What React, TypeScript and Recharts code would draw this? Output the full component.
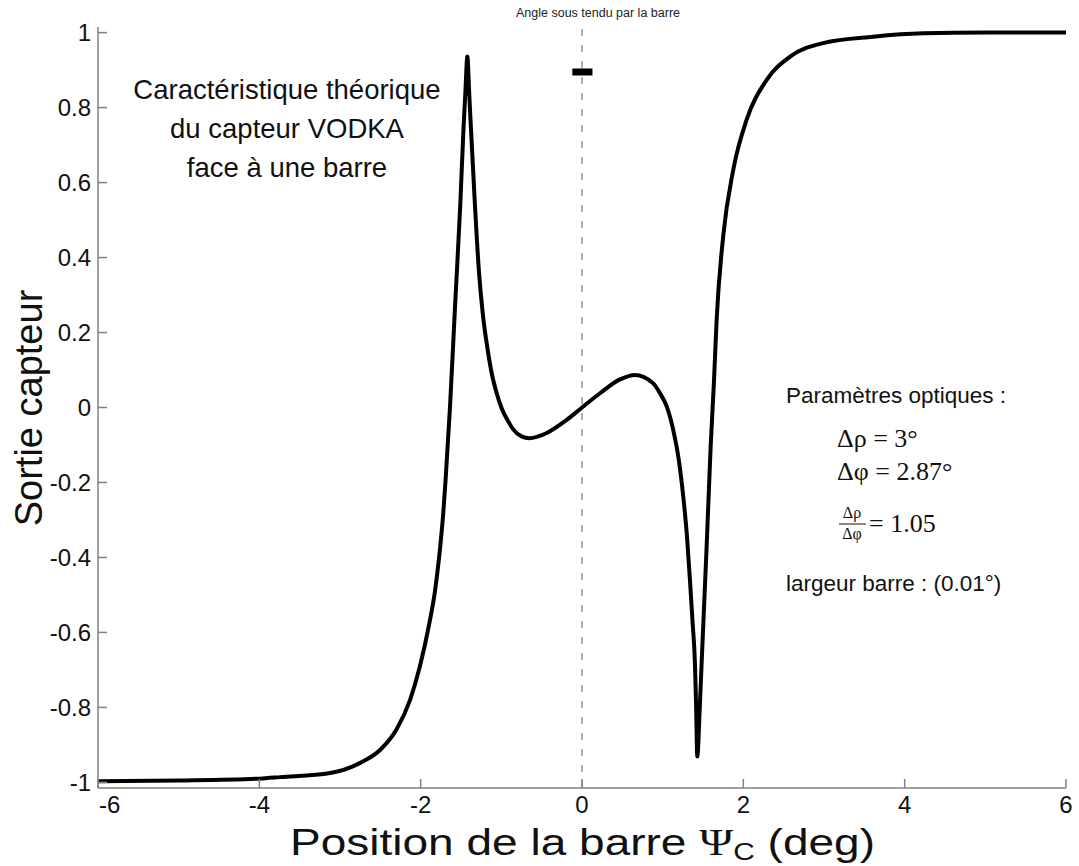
import { LineChart, Line, XAxis, YAxis, ReferenceLine } from 'recharts'

// position de la barre (deg) et sortie capteur
const positions = [
  -6, -5, -4, -3.74, -3.12, -2.75, -2.5, -2.3, -2.13, -2.01, -1.9, -1.82, -1.77, -1.72, -1.69,
  -1.636, -1.574, -1.51, -1.47, -1.446, -1.421, -1.4, -1.38, -1.326, -1.28, -1.23, -1.17, -1.12,
  -1.06, -1.0, -0.92, -0.85, -0.75, -0.653, -0.437, -0.19, 0, 0.223, 0.47, 0.657, 0.88, 0.967,
  1.05, 1.13, 1.2, 1.255, 1.3, 1.338, 1.37, 1.4, 1.415, 1.429, 1.46, 1.483, 1.545, 1.595, 1.636,
  1.669, 1.75, 1.875, 2.04, 2.29, 2.58, 2.99, 3.61, 4.23, 5, 6,
]
const outputs = [
  -0.997, -0.995, -0.99, -0.986, -0.975, -0.948, -0.913, -0.859, -0.779, -0.691, -0.584, -0.486, -0.397, -0.282, -0.19,
  0.003, 0.269, 0.536, 0.74, 0.84, 0.936, 0.847, 0.758, 0.536, 0.37, 0.25, 0.155, 0.092,
  0.04, 0.0, -0.035, -0.059, -0.077, -0.082, -0.068, -0.033, 0, 0.038, 0.075, 0.087, 0.065, 0.038,
  0.003, -0.059, -0.14, -0.237, -0.34, -0.459, -0.57, -0.682, -0.8, -0.931, -0.8, -0.682, -0.371, -0.104, 0.07,
  0.234, 0.456, 0.634, 0.767, 0.874, 0.936, 0.972, 0.989, 0.998, 1.0, 1.0,
]

const xTicks = [-6, -4, -2, 0, 2, 4, 6]
const yTicks = [-1, -0.8, -0.6, -0.4, -0.2, 0, 0.2, 0.4, 0.6, 0.8, 1]

// petit trait noir : angle sous tendu par la barre
const barSpanX = [-0.12, 0.13]
const barSpanY = 0.895

const data = positions.map((x, i) => ({ x, y: outputs[i] }))

const AXIS = '#808080'
const SANS = '"Liberation Sans", Arial, sans-serif'
const SERIF = '"Liberation Serif", "Times New Roman", serif'

const XTick = (props: any) => {
  const { x, y, payload } = props
  const first = payload.value === xTicks[0]
  return (
    <g>
      <line x1={x} y1={y} x2={x} y2={y - 9} stroke={AXIS} strokeWidth={1.5} />
      <text x={first ? x + 1 : x} y={y + 25} textAnchor={first ? 'start' : 'middle'} fontSize={24} fontFamily={SANS} fill="#111">
        {payload.value}
      </text>
    </g>
  )
}

const YTick = (props: any) => {
  const { x, y, payload } = props
  return (
    <g>
      <line x1={x} y1={y} x2={x + 9} y2={y} stroke={AXIS} strokeWidth={1.5} />
      <text x={x - 7} y={y} dy="0.35em" textAnchor="end" fontSize={24} fontFamily={SANS} fill="#111">
        {payload.value}
      </text>
    </g>
  )
}

export default function App() {
  return (
    <div style={{ position: 'absolute', left: 0, top: 0, width: 1079, height: 866, background: '#fff' }}>
      <LineChart width={1079} height={866} data={data} margin={{ top: 27, right: 13, bottom: 18, left: 8 }}>
        <XAxis
          dataKey="x"
          type="number"
          domain={[-6, 6]}
          ticks={xTicks}
          allowDataOverflow
          height={60}
          tickSize={0}
          tickMargin={0}
          tickLine={false}
          axisLine={{ stroke: AXIS, strokeWidth: 1.5 }}
          tick={<XTick />}
        />
        <YAxis
          type="number"
          domain={[-1.015, 1.015]}
          ticks={yTicks}
          allowDataOverflow
          width={90}
          tickSize={0}
          tickMargin={0}
          tickLine={false}
          axisLine={{ stroke: AXIS, strokeWidth: 1.5 }}
          tick={<YTick />}
        />
        <ReferenceLine x={0} stroke="#8a8a8a" strokeWidth={1.3} strokeDasharray="7 9" />
        <ReferenceLine
          segment={[{ x: barSpanX[0], y: barSpanY }, { x: barSpanX[1], y: barSpanY }]}
          stroke="#000"
          strokeWidth={7}
        />
        <Line dataKey="y" type="monotone" stroke="#000" strokeWidth={4} dot={false} isAnimationActive={false} />
      </LineChart>
      <svg width={1079} height={866} style={{ position: 'absolute', left: 0, top: 0, pointerEvents: 'none' }}>
        <text x={598} y={17} textAnchor="middle" fontSize={12.5} fontFamily={SANS} fill="#222">Angle sous tendu par la barre</text>
        <g fontSize={27.5} fontFamily={SANS} fill="#111" textAnchor="middle">
          <text x={287} y={99}>Caractéristique théorique</text>
          <text x={287} y={138}>du capteur VODKA</text>
          <text x={287} y={177}>face à une barre</text>
        </g>
        <text x={786} y={403} fontSize={22.5} fontFamily={SANS} fill="#111">Paramètres optiques :</text>
        <g fontSize={26} fontFamily={SERIF} fill="#111">
          <text x={837} y={447}>Δρ = 3°</text>
          <text x={837} y={480}>Δφ = 2.87°</text>
          <text x={869} y={532}>= 1.05</text>
        </g>
        <g fontSize={16} fontFamily={SERIF} fill="#111" textAnchor="middle">
          <text x={852} y={518}>Δρ</text>
          <text x={852} y={539}>Δφ</text>
        </g>
        <line x1={839} y1={524} x2={866} y2={524} stroke="#111" strokeWidth={1} />
        <text x={786} y={591} fontSize={22.5} fontFamily={SANS} fill="#111">largeur barre : (0.01°)</text>
        <text x={290} y={855} textLength={585} lengthAdjust="spacingAndGlyphs" fontSize={37} fontFamily={SANS} fill="#111">
          Position de la barre <tspan fontFamily={SERIF}>Ψ</tspan>
          <tspan fontSize={24} dy={5}>C</tspan>
          <tspan dy={-5}> (deg)</tspan>
        </text>
        <text x={42} y={408} transform="rotate(-90 42 408)" textAnchor="middle" fontSize={38} fontFamily={SANS} fill="#111">
          Sortie capteur
        </text>
      </svg>
    </div>
  )
}
